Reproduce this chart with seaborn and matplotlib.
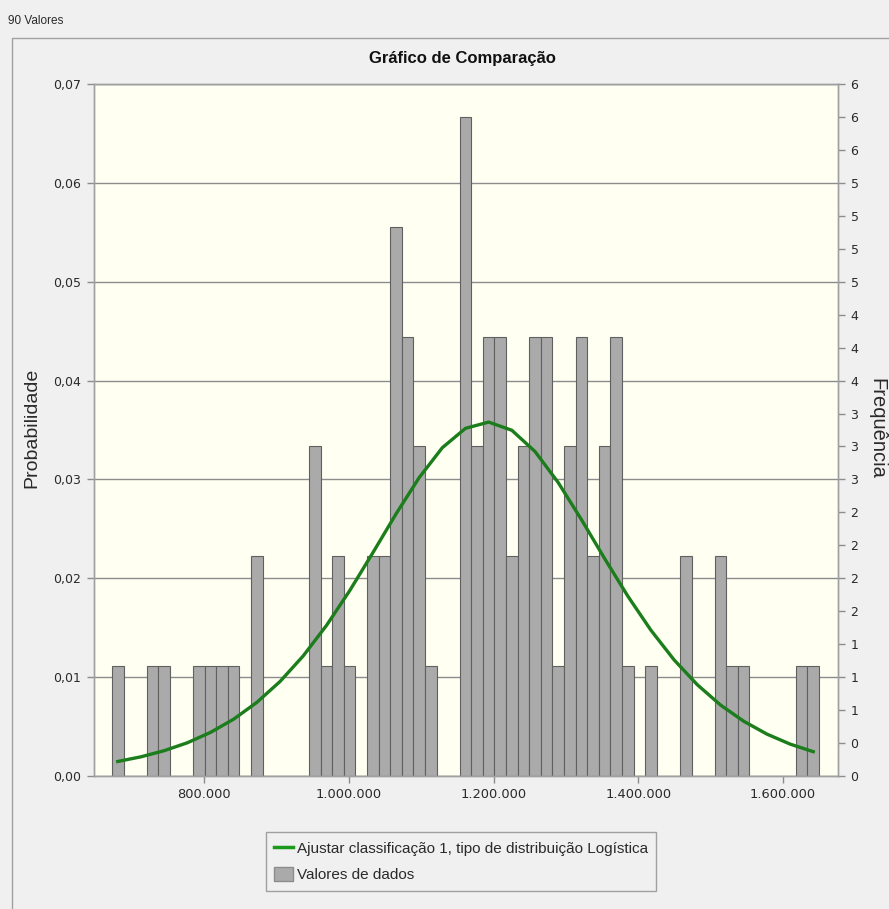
import numpy as np
import pandas as pd
import matplotlib
matplotlib.use("Agg")
import matplotlib.pyplot as plt
import seaborn as sns
from matplotlib.ticker import FixedLocator, FuncFormatter
from matplotlib.lines import Line2D
from matplotlib.patches import Patch, Rectangle

# ---- data -------------------------------------------------------------
n_values = 90
bin_start = 672350          # left edge of the first class
bin_width = 16030           # width of each class
bin_counts = [1, 0, 0, 1, 1, 0, 0, 1, 1, 1,
              1, 0, 2, 0, 0, 0, 0, 3, 1, 2,
              1, 0, 2, 2, 5, 4, 3, 1, 0, 0,
              6, 3, 4, 4, 2, 3, 4, 4, 1, 3,
              4, 2, 3, 4, 1, 0, 1, 0, 0, 2,
              0, 0, 2, 1, 1, 0, 0, 0, 0, 1,
              1]
# fitted logistic probability per class, at every second class centre
fit_prob = [0.00147, 0.00194, 0.00256, 0.00336, 0.00441, 0.00575, 0.00745,
            0.00956, 0.01215, 0.01522, 0.01873, 0.02257, 0.02650, 0.03018,
            0.03321, 0.03517, 0.03580, 0.03497, 0.03282, 0.02968, 0.02594,
            0.02200, 0.01820, 0.01474, 0.01174, 0.00923, 0.00718, 0.00554,
            0.00424, 0.00323, 0.00246]
x_ticks = [800000, 1000000, 1200000, 1400000, 1600000]
x_limits = (647500, 1676400)
y_max = 0.07

title = "Gráfico de Comparação"
fit_label = "Ajustar classificação 1, tipo de distribuição Logística"
data_label = "Valores de dados"

# ---- derived tables ---------------------------------------------------
edges = [bin_start + bin_width * i for i in range(len(bin_counts) + 1)]
centres = [e + bin_width / 2 for e in edges[:-1]]
hist_df = pd.DataFrame({"centro": centres, "n": bin_counts})
fit_df = pd.DataFrame({"x": centres[::2], "p": fit_prob})

# ---- figure -----------------------------------------------------------
plt.rcParams["font.family"] = ["DejaVu Sans"]
W, H = 889, 909
BG = "#f0f0f0"
PLOT_BG = "#fffff2"
FRAME = "#a0a0a0"
TXT = "#2a2a2a"

fig = plt.figure(figsize=(W / 100, H / 100), dpi=100, facecolor=BG)

def fx(px):
    return px / W

def fy(py):
    return 1 - py / H

ax = fig.add_axes([fx(94), fy(776), fx(838) - fx(94), fy(84) - fy(776)])
ax.set_facecolor(PLOT_BG)

sns.histplot(data=hist_df, x="centro", weights="n", bins=edges,
             stat="probability", color="#aaaaaa", edgecolor="#606060",
             linewidth=0.8, alpha=1, ax=ax, zorder=2)
sns.lineplot(data=fit_df, x="x", y="p", color="#1b7d1b", lw=2.4,
             ax=ax, zorder=3)

ax.set_xlim(*x_limits)
ax.set_ylim(0, y_max)
ax.set_xlabel("")
ax.set_ylabel("")
ax.xaxis.set_major_locator(FixedLocator(x_ticks))
ax.xaxis.set_major_formatter(FuncFormatter(lambda v, _: f"{int(round(v)):,}".replace(",", ".")))
ax.yaxis.set_major_locator(FixedLocator(np.arange(0, 0.0701, 0.01)))
ax.yaxis.set_major_formatter(FuncFormatter(lambda v, _: f"{v:.2f}".replace(".", ",")))
ax.yaxis.grid(True, color="#8c8c8c", lw=1)
ax.xaxis.grid(False)
ax.set_axisbelow(True)
ax.tick_params(axis="both", length=5, width=1, color="#8c8c8c",
               labelsize=9, labelcolor=TXT, pad=4)
ax.tick_params(axis="x", labelsize=9.4)
for s in ax.spines.values():
    s.set_color(FRAME)
    s.set_linewidth(1)

# frequency scale on the right
ax2 = ax.twinx()
ax2.set_ylim(0, y_max * n_values)
ax2.yaxis.set_major_locator(FixedLocator(np.arange(22) * 0.3))
ax2.yaxis.set_major_formatter(FuncFormatter(lambda v, _: f"{int(np.floor(v + 0.5 + 1e-9))}"))
ax2.tick_params(axis="y", length=5, width=1, color="#8c8c8c",
                labelsize=9, labelcolor=TXT, pad=4)
for s in ax2.spines.values():
    s.set_color(FRAME)
    s.set_linewidth(1)

# texts
fig.text(fx(8), fy(21), f"{n_values} Valores", ha="left", va="center",
         fontsize=8.5, family="Liberation Sans", color=TXT)
fig.text(fx(462), fy(58), title, ha="center", va="center", fontsize=12,
         fontweight="bold", family="Liberation Sans", color="#111111")
fig.text(fx(32), fy(428), "Probabilidade", rotation=90, ha="center",
         va="center", fontsize=14, family="Liberation Sans", color=TXT)
fig.text(fx(877), fy(428), "Frequência", rotation=270, ha="center",
         va="center", fontsize=14.5, family="Liberation Sans", color=TXT)

# outer panel frame
fig.patches.append(Rectangle((fx(12), -0.05), 1.0, fy(38) + 0.05,
                             transform=fig.transFigure, fill=False,
                             edgecolor=FRAME, lw=1))

handles = [Line2D([0], [0], color="#1b9a1b", lw=2.5),
           Patch(facecolor="#aaaaaa", edgecolor="#8c8c8c")]
leg = fig.legend(handles, [fit_label, data_label], loc="upper left",
                 bbox_to_anchor=(fx(266), fy(832)), frameon=True,
                 fancybox=False, edgecolor=FRAME, facecolor=BG, framealpha=1,
                 prop={"family": "Liberation Sans", "size": 11},
                 handlelength=1.2, handleheight=1.1, handletextpad=0.25,
                 borderpad=0.55, labelspacing=0.7, borderaxespad=0)
for t in leg.get_texts():
    t.set_color(TXT)

fig.savefig("out.png", dpi=100, facecolor=BG)
